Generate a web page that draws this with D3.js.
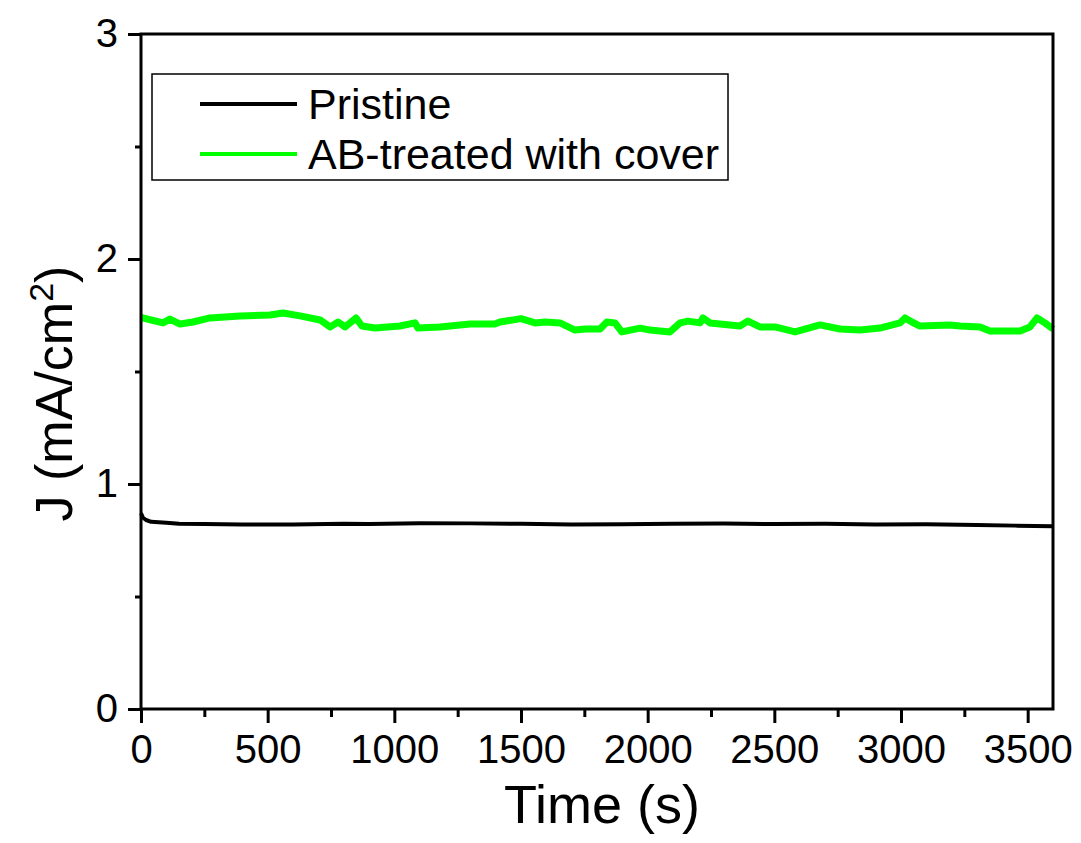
<!DOCTYPE html>
<html>
<head>
<meta charset="utf-8">
<script src="https://cdn.jsdelivr.net/npm/d3@7"></script>
<style>
  body { margin: 0; background: #fff; }
  svg text { font-family: "Liberation Sans", Arial, sans-serif; fill: #000; }
</style>
</head>
<body>
<div id="chart"></div>
<script>
// Pristine (black) trace: time in s, J in mA/cm2
const pristineTime = [0, 8, 20, 40, 100, 150, 250, 400, 600, 800, 900, 1100, 1300, 1500, 1700, 1900, 2100, 2300, 2500, 2700, 2900, 3100, 3300, 3450, 3600];
const pristineJ = [0.87, 0.85, 0.84, 0.832, 0.828, 0.823, 0.822, 0.82, 0.82, 0.823, 0.822, 0.826, 0.825, 0.823, 0.82, 0.821, 0.823, 0.824, 0.822, 0.823, 0.82, 0.821, 0.818, 0.815, 0.812];

// AB-treated with cover (green) trace
const coverTime = [0, 87, 114, 154, 205, 272, 391, 509, 561, 628, 707, 746, 778, 805, 849, 872, 924, 1022, 1082, 1093, 1180, 1299, 1397, 1417, 1500, 1555, 1595, 1654, 1713, 1753, 1812, 1839, 1871, 1898, 1970, 2009, 2088, 2128, 2159, 2207, 2218, 2246, 2364, 2396, 2443, 2503, 2582, 2680, 2759, 2838, 2917, 2996, 3016, 3043, 3075, 3193, 3233, 3312, 3351, 3470, 3509, 3537, 3568, 3600];
const coverJ = [1.74, 1.716, 1.733, 1.711, 1.72, 1.738, 1.747, 1.751, 1.76, 1.747, 1.729, 1.698, 1.72, 1.698, 1.738, 1.702, 1.693, 1.702, 1.716, 1.693, 1.698, 1.711, 1.711, 1.72, 1.735, 1.716, 1.72, 1.716, 1.684, 1.689, 1.689, 1.72, 1.716, 1.676, 1.693, 1.684, 1.676, 1.716, 1.724, 1.716, 1.738, 1.716, 1.702, 1.724, 1.698, 1.698, 1.676, 1.707, 1.689, 1.684, 1.693, 1.716, 1.738, 1.72, 1.702, 1.707, 1.702, 1.698, 1.68, 1.68, 1.698, 1.738, 1.716, 1.689];

const seriesNames = ["Pristine", "AB-treated with cover"];
const seriesColors = ["#000000", "#00ff00"];

const xMajorTicks = [0, 500, 1000, 1500, 2000, 2500, 3000, 3500];
const xMinorTicks = [250, 750, 1250, 1750, 2250, 2750, 3250];
const yMajorTicks = [0, 1, 2, 3];
const yMinorTicks = [0.5, 1.5, 2.5];

const width = 1081, height = 843;
const margin = { top: 34, right: 28, bottom: 134, left: 141 };
const innerW = width - margin.left - margin.right;
const innerH = height - margin.top - margin.bottom;

const svg = d3.select("#chart").append("svg")
  .attr("width", width)
  .attr("height", height);

const g = svg.append("g")
  .attr("transform", `translate(${margin.left},${margin.top})`);

const x = d3.scaleLinear().domain([0, 3600]).range([0, innerW]);
const y = d3.scaleLinear().domain([0, 3]).range([innerH, 0]);

// data lines
const pristine = pristineTime.map((t, i) => ({ t: t, j: pristineJ[i] }));
const cover = coverTime.map((t, i) => ({ t: t, j: coverJ[i] }));

const line = d3.line().x(d => x(d.t)).y(d => y(d.j));

g.append("path")
  .datum(cover)
  .attr("fill", "none")
  .attr("stroke", seriesColors[1])
  .attr("stroke-width", 7)
  .attr("stroke-linejoin", "round")
  .attr("d", line);

g.append("path")
  .datum(pristine)
  .attr("fill", "none")
  .attr("stroke", seriesColors[0])
  .attr("stroke-width", 4)
  .attr("stroke-linejoin", "round")
  .attr("d", line);

// minor ticks
g.append("g")
  .attr("transform", `translate(0,${innerH})`)
  .call(d3.axisBottom(x).tickValues(xMinorTicks).tickSize(8).tickFormat(""))
  .call(a => a.select(".domain").remove())
  .selectAll("line").attr("stroke-width", 3);

g.append("g")
  .call(d3.axisLeft(y).tickValues(yMinorTicks).tickSize(6).tickFormat(""))
  .call(a => a.select(".domain").remove())
  .selectAll("line").attr("stroke-width", 3);

// major ticks
const xAxis = g.append("g")
  .attr("transform", `translate(0,${innerH})`)
  .call(d3.axisBottom(x).tickValues(xMajorTicks).tickSize(14).tickPadding(12).tickFormat(d3.format("d")));
xAxis.select(".domain").remove();
xAxis.selectAll("line").attr("stroke-width", 3);
xAxis.selectAll("text").style("font-size", "40px").attr("dy", "0.71em");

const yAxis = g.append("g")
  .call(d3.axisLeft(y).tickValues(yMajorTicks).tickSize(13).tickPadding(10).tickFormat(d3.format("d")));
yAxis.select(".domain").remove();
yAxis.selectAll("line").attr("stroke-width", 3);
yAxis.selectAll("text").style("font-size", "40px");

// frame
g.append("rect")
  .attr("x", 0).attr("y", 0)
  .attr("width", innerW).attr("height", innerH)
  .attr("fill", "none")
  .attr("stroke", "#000")
  .attr("stroke-width", 3);

// axis titles
svg.append("text")
  .attr("x", margin.left + innerW / 2 + 5)
  .attr("y", 823)
  .attr("text-anchor", "middle")
  .style("font-size", "54px")
  .text("Time (s)");

const yTitle = svg.append("text")
  .attr("transform", `translate(72,${margin.top + innerH / 2 + 22}) rotate(-90)`)
  .attr("text-anchor", "middle")
  .style("font-size", "52px");
yTitle.append("tspan").text("J (mA/cm");
yTitle.append("tspan").attr("baseline-shift", "super").style("font-size", "34px").text("2");
yTitle.append("tspan").text(")");

// legend
const legend = svg.append("g").attr("transform", "translate(152,74)");
legend.append("rect")
  .attr("width", 576).attr("height", 106)
  .attr("fill", "#fff")
  .attr("stroke", "#000")
  .attr("stroke-width", 1.5);

seriesNames.forEach((name, i) => {
  const row = legend.append("g").attr("transform", `translate(0,${30 + i * 50})`);
  row.append("line")
    .attr("x1", 48).attr("x2", 145)
    .attr("stroke", seriesColors[i])
    .attr("stroke-width", 4);
  row.append("text")
    .attr("x", 156)
    .attr("dy", "0.36em")
    .style("font-size", "43px")
    .text(name);
});
</script>
</body>
</html>
